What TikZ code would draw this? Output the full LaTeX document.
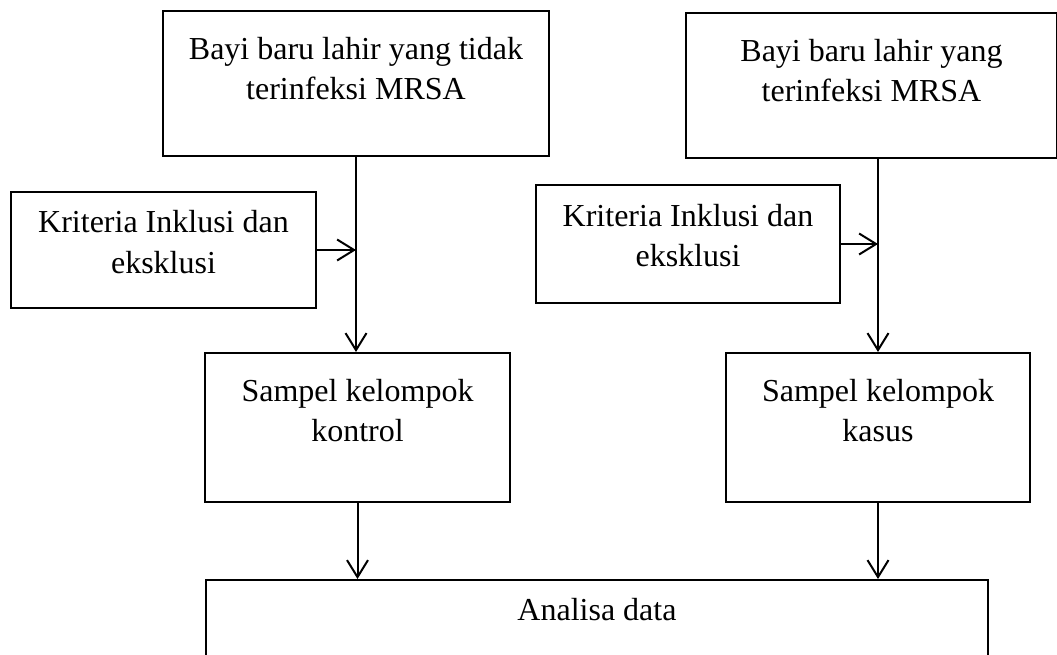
\documentclass[tikz,border=0pt]{standalone}
\usepackage{fontspec}
\setmainfont{Liberation Serif}
\usetikzlibrary{arrows.meta}

\tikzset{
  kotak/.style={rectangle, draw, line width=2pt, inner sep=0pt, anchor=north west, align=center, font=\fontsize{32}{40}\selectfont, execute at begin node={\spaceskip=0.25em\relax}},
  panah/.style={line width=2pt, -{Straight Barb[length=17pt,width=21pt]}}
}

\begin{document}
\begin{tikzpicture}[x=1pt, y=-1pt]
\useasboundingbox (0,0) rectangle (1057,655);
\clip (0,0) rectangle (1057,655);

\node[kotak, text width=386pt, text height=49pt, text depth=96pt] (BT) at (162,10) {Bayi baru lahir yang tidak\\terinfeksi MRSA};
\node[kotak, text width=371pt, text height=49pt, text depth=96pt] (BI) at (685,12) {Bayi baru lahir yang\\terinfeksi MRSA};
\node[kotak, text width=305pt, text height=41pt, text depth=75pt] (K1) at (10,191) {Kriteria Inklusi dan\\eksklusi};
\node[kotak, text width=304pt, text height=41pt, text depth=77pt] (K2) at (535,184) {Kriteria Inklusi dan\\eksklusi};
\node[kotak, text width=305pt, text height=48pt, text depth=101pt] (S1) at (204,352) {Sampel kelompok\\kontrol};
\node[kotak, text width=304pt, text height=48pt, text depth=101pt] (S2) at (725,352) {Sampel kelompok\\kasus};
\node[kotak, text width=782pt, text height=40pt, text depth=120pt] (A) at (205,579) {Analisa data};

\draw[panah] (BT.south) -- (BT.south |- S1.north);
\draw[panah] (K1.east) -- (K1.east -| BT.south);
\draw[panah] (S2.north |- BI.south) -- (S2.north);
\draw[panah] (K2.east) -- (K2.east -| S2.north);
\draw[panah] (S1.south) -- (S1.south |- A.north);
\draw[panah] (S2.south) -- (S2.south |- A.north);
\end{tikzpicture}
\end{document}
